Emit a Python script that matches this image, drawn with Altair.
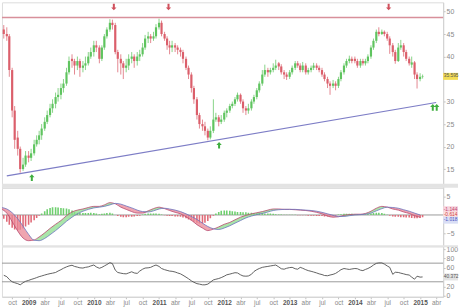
import altair as alt
import pandas as pd

# ---------------- data ----------------
# half-monthly candles (1st and 15th of each month), Aug 2008 .. Jan 2015
open_2008 = [46, 45, 44.5, 37, 28, 22, 19.5, 15, 16]
high_2008 = [47, 46.5, 45, 37.5, 29, 23.5, 20, 17.5, 19]
low_2008 = [44, 43.5, 35.5, 26.5, 19.5, 18, 14.2, 14.6, 15.5]
close_2008 = [45, 44.5, 37, 28, 21.5, 19.5, 15, 16, 18]

open_2009 = [18, 17.5, 18.5, 20.5, 21.5, 22.5, 24, 25.5, 27, 28.5, 29.5, 31, 31.5, 33, 34, 36.5, 39.5, 39, 38, 39, 37.5, 38, 38.5, 40]
high_2009 = [19, 19.5, 21.5, 22.5, 23.5, 25, 26.5, 28, 29.5, 30.5, 32, 33, 34, 35, 37.5, 40, 40.5, 39.5, 40, 39.5, 39, 40, 41, 42]
low_2009 = [16.5, 16.8, 18, 20, 20.5, 21.5, 23.5, 25, 26.5, 27.5, 28.5, 30, 30.5, 32, 33.5, 36, 37.5, 36, 37, 35.5, 36.5, 37, 38, 39.5]
close_2009 = [17.5, 18.5, 20.5, 21.5, 22.5, 24, 25.5, 27, 28.5, 29.5, 31, 31.5, 33, 34, 36.5, 39, 39, 38, 39, 37.5, 38, 38.5, 40, 41]

open_2010 = [41, 42.5, 42, 39.5, 42, 44.5, 46, 47.5, 47, 41, 39.5, 38.5, 37.5, 38, 39.5, 40, 39, 40, 40.5, 42, 44, 44.5, 44, 44.5]
high_2010 = [43.5, 43.5, 42.5, 42.5, 45, 46.5, 48.3, 48.2, 47.5, 41.5, 40.5, 39, 39.5, 40.5, 41, 40.5, 41, 41.5, 43, 44.8, 45.5, 45, 45.5, 47.2]
low_2010 = [40, 41, 38.5, 39, 41.5, 44, 45.5, 46, 40.5, 36.5, 36, 35, 36.5, 37, 38.5, 37.5, 38, 39, 40, 41.5, 43, 43, 43.5, 44]
close_2010 = [42.5, 42, 39.5, 42, 44.5, 46, 47.5, 47, 41, 39.5, 38.5, 37.5, 38, 39.5, 40, 39, 40, 40.5, 42, 44, 44.5, 44, 44.5, 46.5]

open_2011 = [46.5, 47.5, 45, 44, 42.5, 42, 42.5, 42, 41.5, 41, 39.5, 37.5, 36, 33, 30.5, 27, 25, 24.5, 23.5, 22, 23.5, 26, 26.5, 25.5]
high_2011 = [48.4, 48, 45.5, 44.5, 43.5, 43.5, 43, 42.5, 42, 41.5, 40, 38, 36.5, 33.5, 31, 27.5, 26, 25.5, 24, 24.5, 30.5, 27.5, 27, 27]
low_2011 = [46, 44.5, 43.5, 41.5, 40.5, 41, 41, 40.5, 40, 38.5, 37, 35, 32, 29.5, 26, 24, 23.5, 22.5, 21.4, 21.6, 23, 25.5, 24.5, 25]
close_2011 = [47.5, 45, 44, 42.5, 42, 42.5, 42, 41.5, 41, 39.5, 37.5, 36, 33, 30.5, 27, 25, 24.5, 23.5, 22, 23.5, 26, 26.5, 25.5, 26]

open_2012 = [26, 27.5, 28, 29, 29.5, 30.5, 31.5, 30, 28.5, 28, 28.5, 30, 31, 32.5, 34, 36, 37, 36.5, 37, 37.5, 38.5, 37.8, 36.5, 36]
high_2012 = [28, 28.5, 29.5, 30, 31, 32, 31.8, 30.5, 29, 29.5, 30.5, 31.5, 33, 34.5, 37, 38.2, 37.5, 37.5, 38.5, 39.3, 38.8, 38.3, 37, 36.5]
low_2012 = [25.5, 26.5, 27.5, 28.5, 29, 30, 29.5, 27.5, 27, 27.3, 28, 29.5, 30.5, 32, 33.5, 35.5, 35.5, 36, 36.5, 37, 37, 36, 35, 34.8]
close_2012 = [27.5, 28, 29, 29.5, 30.5, 31.5, 30, 28.5, 28, 28.5, 30, 31, 32.5, 34, 36, 37, 36.5, 37, 37.5, 38, 37.8, 36.5, 36, 35.5]

open_2013 = [35.5, 36.5, 37.5, 38.5, 38, 37, 38, 36.5, 37, 37.5, 38, 37.5, 37, 36, 35, 34, 33.5, 34, 33.5, 35, 36.5, 38, 39, 39.5]
high_2013 = [37, 38, 39, 39, 38.5, 38.8, 38.5, 37.5, 38, 38.6, 38.5, 38, 37.5, 36.5, 35.5, 34.5, 34.8, 34.5, 35.5, 37, 38.5, 39.5, 40.2, 40]
low_2013 = [35, 36, 37, 37.5, 36.5, 36.5, 36, 36, 36.5, 37, 37, 36.5, 35.5, 34.5, 33, 31.5, 33, 32.5, 33, 34.5, 36, 37.5, 38.5, 38.5]
close_2013 = [36.5, 37.5, 38.5, 38, 37, 38, 36.5, 37, 37.5, 38, 37.5, 37, 36, 35, 34, 33.5, 34, 33.5, 35, 36.5, 38, 39, 39.5, 39]

open_2014 = [39.5, 39, 38, 39, 38.5, 39, 40, 42, 43.5, 45.5, 45, 45.5, 45, 44, 42.5, 41, 39, 42, 42.5, 41, 39.5, 38.2, 38.7, 36]
high_2014 = [40, 39.5, 39.5, 39.5, 39.5, 40.5, 42.5, 44, 46, 46.5, 46, 45.8, 45.5, 44.5, 43, 41.5, 43, 43.7, 43, 41.5, 40, 40, 39, 36.5]
low_2014 = [38.5, 37.5, 37.5, 38, 38, 38.5, 39.5, 41.5, 43, 44.5, 44.8, 44.5, 43.5, 40.6, 40, 38.4, 38.8, 41.5, 40, 39, 38, 37.5, 35, 32.9]
close_2014 = [39, 38, 39, 38.5, 39, 40, 42, 43.5, 45.5, 45, 45.5, 45, 44, 42.5, 41, 39, 42, 42.5, 41, 39.5, 38.5, 38.7, 36, 35]

open_2015 = [35, 35.5]
high_2015 = [36.3, 36]
low_2015 = [34.5, 35.1]
close_2015 = [35.5, 35.6]

# RSI (half-monthly, same dates as the candles)
rsi_2008 = [44, 41, 35, 30, 28, 26, 23.5, 28, 31]
rsi_2009 = [33, 35, 37, 39, 41, 42.5, 44.5, 46, 47.5, 48.5, 50, 53, 56, 59, 62, 64, 65.5, 63, 61.5, 60, 59.5, 61, 62, 64]
rsi_2010 = [66, 62, 59, 61, 64, 67, 71, 69, 55, 50, 48.5, 47.5, 47, 49, 51.5, 49, 48, 53, 57, 59.5, 60, 61, 64, 66]
rsi_2011 = [63, 58.5, 56, 54.5, 53, 52.5, 51, 49, 47, 44, 40, 36.5, 32, 29, 26, 25, 23.5, 23.5, 25, 29, 34, 35.5, 37, 39]
rsi_2012 = [42, 45, 46.5, 48, 49.5, 49, 45, 42.5, 42, 42.5, 46, 52, 56, 58.5, 61, 62, 63, 64, 65, 66, 62, 58, 57, 59]
rsi_2013 = [60.5, 61, 58, 57, 61, 59, 56, 54, 52.5, 51, 49, 47, 45.5, 43.5, 43, 44.5, 46, 48, 52, 56, 58.5, 57.5, 56.5, 57.5]
rsi_2014 = [58.5, 58, 55, 54, 56.5, 58.5, 62, 66, 69.5, 70.5, 70.5, 68, 64, 61, 46, 50.5, 50, 48.5, 47, 45.5, 44.5, 40, 35.5, 42]
rsi_2015 = [40, 40.4]

# MACD histogram (half-monthly)
hist_2008 = [-1.0, -1.8, -2.6, -3.4, -3.9, -4.1, -4.0, -3.6, -3.1]
hist_2009 = [-2.6, -2.0, -1.4, -0.8, -0.2, 0.4, 1.0, 1.5, 1.9, 2.1, 2.1, 2.0, 1.9, 1.8, 1.7, 1.5, 1.2, 0.8, 0.6, 0.5, 0.5, 0.5, 0.5, 0.6]
hist_2010 = [0.5, 0.4, 0.2, 0.3, 0.4, 0.5, 0.6, 0.4, 0.0, -0.3, -0.5, -0.6, -0.6, -0.5, -0.5, -0.4, -0.3, -0.2, 0.1, 0.3, 0.4, 0.4, 0.4, 0.4]
hist_2011 = [0.3, 0.1, -0.1, -0.2, -0.3, -0.3, -0.4, -0.4, -0.5, -0.7, -0.9, -1.2, -1.5, -1.8, -2.1, -2.3, -2.3, -2.1, -1.6, -0.9, -0.2, 0.4, 0.8, 1.1]
hist_2012 = [1.2, 1.2, 1.1, 1.0, 0.9, 0.8, 0.8, 0.7, 0.7, 0.6, 0.6, 0.5, 0.5, 0.5, 0.5, 0.4, 0.4, 0.4, 0.3, 0.2, 0.1, 0.1, 0.05, 0.05]
hist_2013 = [0.05, 0.05, 0.05, -0.05, -0.1, -0.1, -0.1, -0.2, -0.2, -0.2, -0.3, -0.3, -0.3, -0.4, -0.4, -0.4, -0.3, -0.2, 0.1, 0.2, 0.3, 0.3, 0.3, 0.3]
hist_2014 = [0.2, 0.2, 0.1, 0.1, 0.2, 0.3, 0.4, 0.5, 0.6, 0.6, 0.5, 0.3, 0.05, -0.2, -0.4, -0.5, -0.5, -0.6, -0.6, -0.7, -0.7, -0.8, -0.9, -0.9]
hist_2015 = [-0.8, -0.6]

# MACD and signal lines (monthly, Aug 2008 .. Jan 2015)
macd_2008 = [1.6, 0.5, -1.8, -4.3, -6.2]
macd_2009 = [-6.9, -6.7, -5.9, -4.8, -3.6, -2.5, -1.5, -0.2, 0.8, 1.3, 1.6, 2.0]
macd_2010 = [2.3, 2.3, 2.7, 3.3, 3.0, 2.1, 1.5, 0.9, 0.5, 0.5, 1.1, 1.7]
macd_2011 = [2.1, 1.7, 1.2, 0.7, 0.3, -0.5, -1.4, -2.6, -3.5, -4.2, -3.8, -3.2]
macd_2012 = [-2.5, -2.0, -1.3, -0.6, -0.1, 0.3, 0.6, 0.9, 1.3, 1.6, 1.6, 1.5]
macd_2013 = [1.5, 1.4, 1.3, 1.2, 1.0, 0.7, 0.3, -0.3, -0.6, -0.5, -0.1, 0.1]
macd_2014 = [0.2, 0.2, 0.4, 1.0, 1.8, 2.3, 2.1, 1.6, 1.3, 0.8, 0.4, -0.2]
macd_2015 = [-0.6]
signal_2008 = [2.0, 1.6, 0.6, -1.0, -3.0]
signal_2009 = [-5.2, -6.8, -6.9, -6.3, -5.3, -4.2, -3.0, -1.7, -0.6, 0.3, 1.0, 1.5]
signal_2010 = [1.9, 2.1, 2.3, 2.7, 3.1, 2.9, 2.4, 1.9, 1.3, 0.9, 0.8, 1.1]
signal_2011 = [1.6, 1.8, 1.6, 1.3, 0.9, 0.3, -0.4, -1.2, -2.2, -3.1, -3.7, -3.9]
signal_2012 = [-3.5, -2.9, -2.2, -1.5, -0.8, -0.3, 0.1, 0.4, 0.8, 1.2, 1.4, 1.5]
signal_2013 = [1.5, 1.5, 1.4, 1.3, 1.2, 1.0, 0.7, 0.3, -0.1, -0.4, -0.4, -0.2]
signal_2014 = [0.0, 0.1, 0.2, 0.5, 1.1, 1.7, 2.1, 2.0, 1.8, 1.4, 1.0, 0.5]
signal_2015 = [0.0]

# annotations
resistance = 48.7
trend_dates = ["2008-09-01", "2015-04-01"]
trend_values = [13.5, 29.8]
arrow_down_dates = ["2010-04-23", "2011-02-23", "2014-07-09"]
arrow_down_values = [51.0, 51.0, 51.0]
arrow_up_dates = ["2009-01-19", "2011-12-03", "2015-03-13", "2015-04-04"]
arrow_up_values = [13.1, 20.3, 28.7, 28.7]
last_price = 35.595
last_rsi = 40.372
macd_tags = ["-1.144", "-0.614", "-1.018"]
macd_tag_pos = [1.4, 0.0, -1.4]

price_ticks = [15, 20, 25, 30, 40, 45, 50]
macd_ticks = [5, -5]
rsi_ticks = [0, 20, 60, 80, 100]
rsi_levels = [30, 70]


def ms(d):
    return int(pd.Timestamp(d).value // 10**6)


def cat(prefix):
    out = []
    for y in range(2008, 2016):
        out += globals()[f"{prefix}_{y}"]
    return out


half_dates = [ms(d) for d in pd.date_range("2008-08-15", "2015-01-15", freq="SMS")]
month_dates = [ms(d) for d in pd.date_range("2008-08-01", "2015-01-01", freq="MS")]
tick_dates = [ms(d) for d in pd.date_range("2008-10-01", "2015-04-01", freq="3MS")]

candles = pd.DataFrame({
    "t": half_dates,
    "o": cat("open"), "h": cat("high"), "l": cat("low"), "c": cat("close"),
    "rsi": cat("rsi"), "hist": cat("hist"),
})
lines = pd.DataFrame({"t": month_dates, "m": cat("macd"), "s": cat("signal")})
trend = pd.DataFrame({"t": [ms(d) for d in trend_dates], "v": trend_values})
arr_dn = pd.DataFrame({"t": [ms(d) for d in arrow_down_dates], "v": arrow_down_values})
arr_up = pd.DataFrame({"t": [ms(d) for d in arrow_up_dates], "v": arrow_up_values})
tags = pd.DataFrame({"txt": macd_tags, "v": macd_tag_pos,
                     "fg": ["#c2456e", "#d04040", "#4a55c0"],
                     "bg": ["#f6d3dd", "#fbe0e0", "#d9def5"]})

GREEN = "#5fc45f"
RED = "#db5f6b"
FONT = "Liberation Sans"
W = 445
RIGHT = 460

xs = alt.Scale(type="utc", domain=[ms("2008-08-05"), ms("2015-05-10")], padding=0, nice=False)
X = alt.X("t:T", scale=xs, axis=None)


def yaxis(vals):
    return alt.Axis(orient="right", values=vals, labelFontSize=7, labelColor="#8a8a8a",
                    labelFont=FONT, tickSize=2, labelPadding=1, tickColor="#c0c0c0",
                    domainColor="#cfcfcf", grid=False, title=None, labelFlush=False)


ps = alt.Scale(domain=[10.86, 52.05], nice=False, zero=False, padding=0)
msc = alt.Scale(domain=[-8.38, 7.31], nice=False, zero=False, padding=0)
rs = alt.Scale(domain=[-2.13, 106.4], nice=False, zero=False, padding=0)


def PY(f):
    return alt.Y(f, scale=ps, axis=yaxis(price_ticks))


def MY(f):
    return alt.Y(f, scale=msc, axis=yaxis(macd_ticks))


def RY(f):
    return alt.Y(f, scale=rs, axis=yaxis(rsi_ticks))


# tag box: 15 px wide, 7 px tall, ending at the right edge of the picture
TAG = "M-1,-0.47 L1,-0.47 L1,0.47 L-1,0.47 Z"
TAG_SIZE = 225
TAG_X = 452.5
TXT_X = 445.6
TAG_FONT = 4.9

# ---------------- main price panel ----------------
updown = alt.condition("datum.c >= datum.o", alt.value(GREEN), alt.value(RED))
base = alt.Chart(candles)

band = alt.Chart(pd.DataFrame({"a": [0]})).mark_rect(color="#e3e3e3").encode(
    x=alt.value(0), x2=alt.value(RIGHT), y=alt.value(183), y2=alt.value(187))
res = alt.Chart(pd.DataFrame({"v": [resistance]})).mark_rule(color="#d8909b", strokeWidth=1.5).encode(
    y=PY("v:Q"))
tl = alt.Chart(trend).mark_line(color="#7d7dc6", strokeWidth=1.2).encode(x=X, y=PY("v:Q"))
wick = base.mark_rule(strokeWidth=1, opacity=0.75).encode(
    x=X, y=PY("l:Q"), y2="h:Q", color=updown)
body = base.mark_bar(size=2.2).encode(x=X, y=PY("o:Q"), y2="c:Q", color=updown)
UP = "M0,-1 L0.8,-0.1 L0.3,-0.1 L0.3,1 L-0.3,1 L-0.3,-0.1 L-0.8,-0.1 Z"
DN = "M0,1 L0.8,0.1 L0.3,0.1 L0.3,-1 L-0.3,-1 L-0.3,0.1 L-0.8,0.1 Z"
adn = alt.Chart(arr_dn).mark_point(shape=DN, filled=True, size=45, color="#d0505c", opacity=1).encode(
    x=X, y=PY("v:Q"))
aup = alt.Chart(arr_up).mark_point(shape=UP, filled=True, size=45, color="#3fae3f", opacity=1).encode(
    x=X, y=PY("v:Q"))
ptag_bg = alt.Chart(pd.DataFrame({"v": [last_price]})).mark_point(
    shape=TAG, filled=True, size=TAG_SIZE, color="#f2dc55", opacity=1).encode(
    x=alt.value(TAG_X), y=PY("v:Q"))
ptag = alt.Chart(pd.DataFrame({"v": [last_price]})).mark_text(
    align="left", baseline="middle", fontSize=TAG_FONT, font=FONT, color="#555").encode(
    x=alt.value(TXT_X), y=PY("v:Q"), text=alt.Text("v:Q", format=".3f"))

main = alt.layer(res, band, tl, wick, body, adn, aup, ptag_bg, ptag).properties(width=W, height=187)

# ---------------- MACD panel ----------------
zero = alt.Chart(pd.DataFrame({"v": [0]})).mark_rule(color="#9a9a9a", strokeWidth=1).encode(y=MY("v:Q"))
hbar = alt.Chart(candles).mark_bar(size=1.6, clip=True).encode(
    x=X, y=MY("hist:Q"), y2=alt.datum(0),
    color=alt.condition("datum.hist >= 0", alt.value("#6fcf6f"), alt.value("#e06a78")))
lb = alt.Chart(lines)
g_area = lb.transform_calculate(top="max(datum.m, datum.s)").mark_area(
    color="#8cdc8c", opacity=0.75, interpolate="monotone", clip=True).encode(
    x=X, y=MY("top:Q"), y2="s:Q")
r_area = lb.transform_calculate(bot="min(datum.m, datum.s)").mark_area(
    color="#ea8796", opacity=0.75, interpolate="monotone", clip=True).encode(
    x=X, y=MY("bot:Q"), y2="s:Q")
m_line = lb.mark_line(color="#b8486e", strokeWidth=0.8, interpolate="monotone", clip=True).encode(
    x=X, y=MY("m:Q"))
s_line = lb.mark_line(color="#6b74bf", strokeWidth=0.8, interpolate="monotone", clip=True).encode(
    x=X, y=MY("s:Q"))
tag_bg = alt.Chart(tags).mark_point(shape=TAG, filled=True, size=TAG_SIZE, opacity=1).encode(
    x=alt.value(TAG_X), y=MY("v:Q"), color=alt.Color("bg:N", scale=None))
tag_tx = alt.Chart(tags).mark_text(align="left", baseline="middle", fontSize=TAG_FONT, font=FONT).encode(
    x=alt.value(TXT_X), y=MY("v:Q"), text="txt:N", color=alt.Color("fg:N", scale=None))
macd = alt.layer(zero, hbar, g_area, r_area, m_line, s_line, tag_bg, tag_tx).properties(width=W, height=59)

# ---------------- RSI panel ----------------
sep = alt.Chart(pd.DataFrame({"a": [0]})).mark_rule(color="#e3e3e3", strokeWidth=2).encode(
    x=alt.value(0), x2=alt.value(RIGHT), y=alt.value(0))
lv = alt.Chart(pd.DataFrame({"v": rsi_levels})).mark_rule(color="#9a9a9a", strokeWidth=1).encode(y=RY("v:Q"))
month_lbl = ("utcmonth(datum.value) == 0 ? utcFormat(datum.value, '%Y') : "
             "(utcmonth(datum.value) == 3 ? 'abr' : (utcmonth(datum.value) == 6 ? 'jul' : 'oct'))")
xaxis = alt.Axis(values=tick_dates, labelExpr=month_lbl, labelFontSize=6.5, labelFont=FONT,
                 labelColor={"condition": {"test": "utcmonth(datum.value) == 0", "value": "#555555"},
                             "value": "#8a8a8a"},
                 labelFontWeight={"condition": {"test": "utcmonth(datum.value) == 0", "value": "bold"},
                                  "value": "normal"},
                 tickSize=2, labelPadding=1, tickColor="#c0c0c0", domainColor="#cfcfcf",
                 grid=False, title=None, labelOverlap=False, labelFlush=False)
rline = alt.Chart(candles).mark_line(color="#505050", strokeWidth=0.9).encode(
    x=alt.X("t:T", scale=xs, axis=xaxis), y=RY("rsi:Q"))
rtag_bg = alt.Chart(pd.DataFrame({"v": [last_rsi]})).mark_point(
    shape=TAG, filled=True, size=TAG_SIZE, color="#e3e3e3", opacity=1).encode(
    x=alt.value(TAG_X), y=RY("v:Q"))
rtag = alt.Chart(pd.DataFrame({"v": [last_rsi]})).mark_text(
    align="left", baseline="middle", fontSize=TAG_FONT, font=FONT, color="#555").encode(
    x=alt.value(TXT_X), y=RY("v:Q"), text=alt.Text("v:Q", format=".3f"))
rsi = alt.layer(lv, sep, rline, rtag_bg, rtag).properties(width=W, height=51)

chart = alt.vconcat(main, macd, rsi, spacing=0, bounds="flush").properties(
    padding=0
).configure_view(stroke=None).configure(background="white")

chart.save("out.html", embed_options={"renderer": "svg", "actions": False})
